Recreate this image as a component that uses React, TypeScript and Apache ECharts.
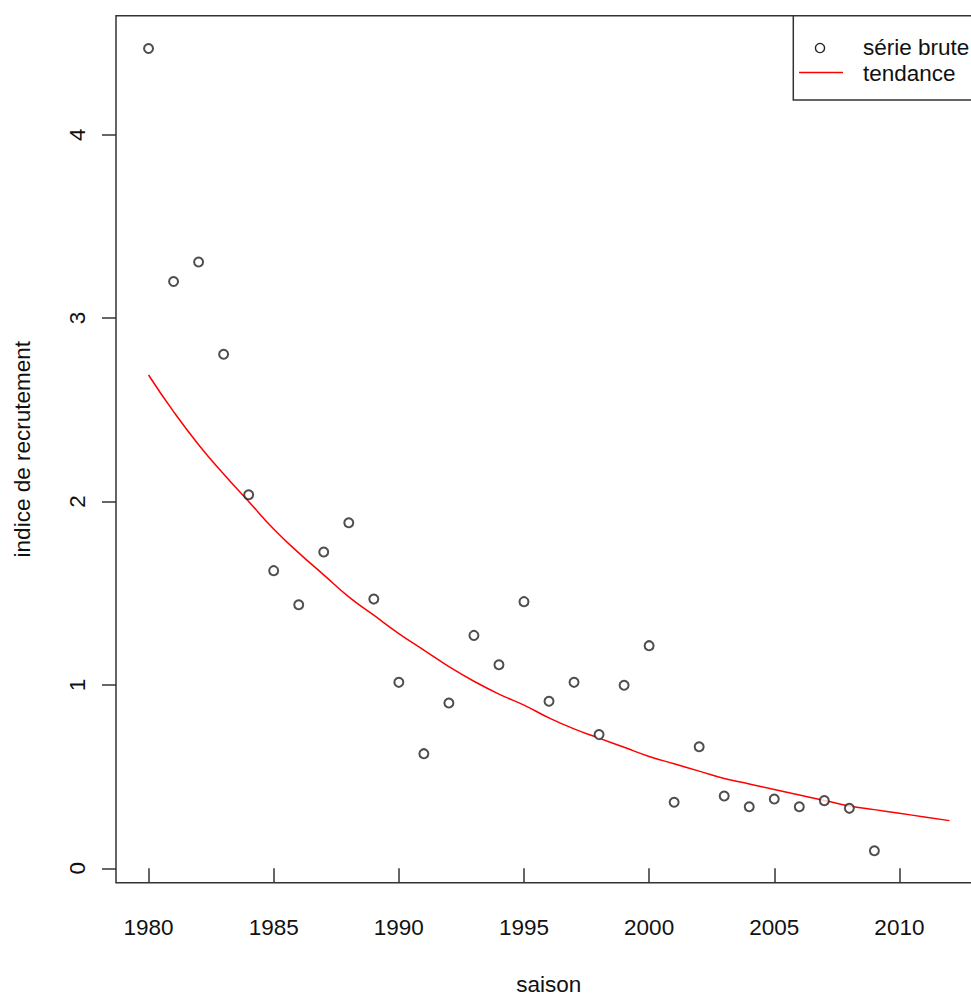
import React, { useEffect, useRef } from "react";
import * as echarts from "echarts";

const years = [1980, 1981, 1982, 1983, 1984, 1985, 1986, 1987, 1988, 1989, 1990, 1991, 1992, 1993, 1994, 1995, 1996, 1997, 1998, 1999, 2000, 2001, 2002, 2003, 2004, 2005, 2006, 2007, 2008, 2009];
const rawSeries = [4.47, 3.2, 3.306, 2.803, 2.037, 1.623, 1.437, 1.725, 1.884, 1.468, 1.014, 0.625, 0.901, 1.27, 1.11, 1.454, 0.911, 1.014, 0.729, 0.998, 1.214, 0.36, 0.663, 0.394, 0.336, 0.378, 0.336, 0.369, 0.327, 0.096];

const trendYears = [1980, 1981, 1982, 1983, 1984, 1985, 1986, 1987, 1988, 1989, 1990, 1991, 1992, 1993, 1994, 1995, 1996, 1997, 1998, 1999, 2000, 2001, 2002, 2003, 2004, 2005, 2006, 2007, 2008, 2009, 2010, 2011, 2012];
const trendValues = [2.69, 2.49, 2.31, 2.15, 2.0, 1.85, 1.72, 1.6, 1.48, 1.38, 1.28, 1.19, 1.1, 1.02, 0.95, 0.89, 0.82, 0.76, 0.71, 0.66, 0.61, 0.57, 0.53, 0.49, 0.46, 0.43, 0.4, 0.37, 0.34, 0.32, 0.3, 0.28, 0.26];

const xTicks = [1980, 1985, 1990, 1995, 2000, 2005, 2010];
const yTicks = [0, 1, 2, 3, 4];

const seriesNames = ["série brute", "tendance"];
const xTitle = "saison";
const yTitle = "indice de recrutement";

const FONT = "'Liberation Sans', Arial, sans-serif";
const FS = 22.5;
const AX = "#333333";
const TXT = "#111111";

export default function App() {
  const ref = useRef<HTMLDivElement>(null);
  useEffect(() => {
    if (!ref.current) return;
    const chart = echarts.init(ref.current, undefined, { renderer: "svg" });
    const option: any = {
      animation: false,
      backgroundColor: "#ffffff",
      textStyle: { fontFamily: FONT },
      grid: {
        left: 116,
        top: 15.7,
        width: 865.5,
        height: 867,
        outerBoundsMode: "none",
        containLabel: false,
        show: true,
        borderColor: AX,
        borderWidth: 1.5,
        backgroundColor: "transparent",
      },
      xAxis: {
        type: "value",
        min: 1978.7,
        max: 2013.28,
        axisLine: { show: false },
        splitLine: { show: false },
        axisTick: {
          show: true,
          length: 14,
          lineStyle: { color: AX, width: 1.5 },
          customValues: xTicks,
        },
        axisLabel: {
          customValues: xTicks,
          margin: 45,
          fontSize: FS,
          fontFamily: FONT,
          color: TXT,
          verticalAlign: "middle",
          formatter: (v: number) => String(v),
        },
        name: xTitle,
        nameLocation: "middle",
        nameGap: 102,
        nameTextStyle: { fontSize: FS, fontFamily: FONT, color: TXT, verticalAlign: "middle" },
      },
      yAxis: {
        type: "value",
        min: -0.0785,
        max: 4.649,
        axisLine: { show: false },
        splitLine: { show: false },
        axisTick: {
          show: true,
          length: 14,
          lineStyle: { color: AX, width: 1.5 },
          customValues: yTicks,
        },
        axisLabel: {
          customValues: yTicks,
          rotate: 90,
          margin: 39,
          fontSize: FS,
          fontFamily: FONT,
          color: TXT,
          align: "center",
          verticalAlign: "middle",
          formatter: (v: number) => String(v),
        },
        name: yTitle,
        nameLocation: "middle",
        nameGap: 94,
        nameRotate: 90,
        nameTextStyle: { fontSize: FS, fontFamily: FONT, color: TXT, align: "center", verticalAlign: "middle" },
      },
      series: [
        {
          name: seriesNames[0],
          type: "scatter",
          data: years.map((y, i) => [y, rawSeries[i]]),
          symbol: "emptyCircle",
          symbolSize: 9,
          itemStyle: { color: "#222222", borderColor: "#222222", borderWidth: 1.4 },
          z: 3,
        },
        {
          name: seriesNames[1],
          type: "line",
          data: trendYears.map((y, i) => [y, trendValues[i]]),
          showSymbol: false,
          symbol: "none",
          smooth: true,
          lineStyle: { color: "#ff0000", width: 1.5 },
          z: 2,
        },
      ],
      graphic: [
        {
          type: "rect",
          shape: { x: 793.3, y: 15.7, width: 220, height: 84.3 },
          style: { fill: "#ffffff", stroke: AX, lineWidth: 1.5 },
          z: 10,
        },
        {
          type: "circle",
          shape: { cx: 820, cy: 48, r: 4.6 },
          style: { fill: "none", stroke: "#222222", lineWidth: 1.4 },
          z: 11,
        },
        {
          type: "line",
          shape: { x1: 799, y1: 72.5, x2: 843, y2: 72.5 },
          style: { stroke: "#ff0000", lineWidth: 1.5 },
          z: 11,
        },
        {
          type: "text",
          x: 863,
          y: 47,
          style: { text: seriesNames[0], fontSize: FS, fontFamily: FONT, fill: TXT, verticalAlign: "middle", align: "left" },
          z: 11,
        },
        {
          type: "text",
          x: 863,
          y: 73,
          style: { text: seriesNames[1], fontSize: FS, fontFamily: FONT, fill: TXT, verticalAlign: "middle", align: "left" },
          z: 11,
        },
      ],
    };
    chart.setOption(option);
    return () => chart.dispose();
  }, []);
  return (
    <div
      ref={ref}
      style={{ position: "fixed", left: 0, top: 0, width: 971, height: 997, background: "#fff" }}
    />
  );
}
